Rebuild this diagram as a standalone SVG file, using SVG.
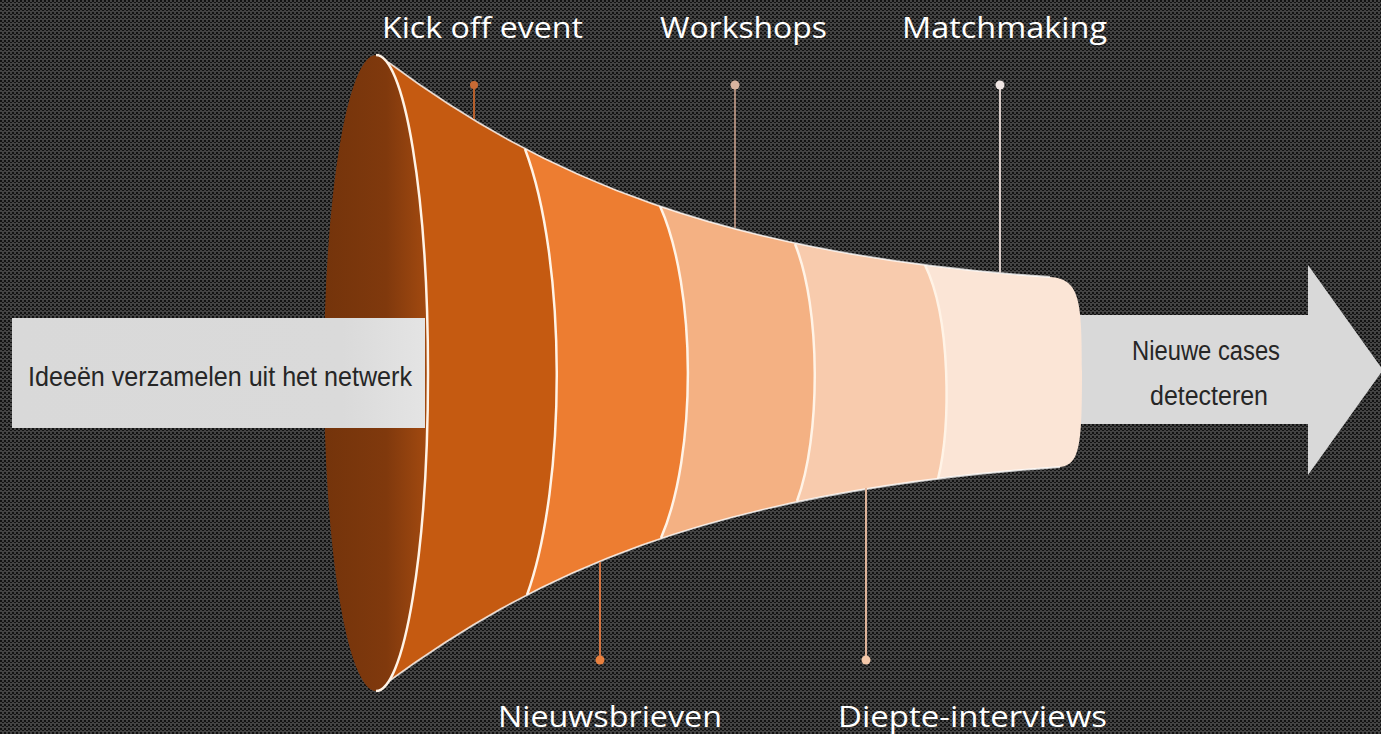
<svg xmlns="http://www.w3.org/2000/svg" width="1381" height="734" viewBox="0 0 1381 734">
<style>
.lbl{font-family:"Open Sans","Noto Sans",sans-serif;font-size:29px;fill:#ffffff}
.bar{font-family:"Liberation Sans","DejaVu Sans",sans-serif;fill:#262626}
.sep{fill:none;stroke:#fff3e6;stroke-width:2.5}
.edge{fill:none;stroke:#ffffff;stroke-opacity:0.75;stroke-width:1.8}
</style>
<defs>
<pattern id="bg" width="4" height="4" patternUnits="userSpaceOnUse">
<rect width="4" height="4" fill="#434343"/>
<rect x="0" y="0" width="2" height="2" fill="#121212"/>
<rect x="2" y="2" width="2" height="1" fill="#121212"/>
</pattern>
<linearGradient id="gIn" x1="0" y1="0" x2="1" y2="0">
<stop offset="0" stop-color="#74340b"/>
<stop offset="0.6" stop-color="#80390d"/>
<stop offset="1" stop-color="#a34a10"/>
</linearGradient>
<linearGradient id="gBar" x1="0" y1="0" x2="1" y2="0">
<stop offset="0" stop-color="#d9d9d9"/>
<stop offset="0.8" stop-color="#dadada"/>
<stop offset="1" stop-color="#e4e4e4"/>
</linearGradient>
<clipPath id="body">
<path d="M376,55 L388,62 C540,175 720,255 1050,277 C1080,279 1082,300 1082,372 C1082,445 1080,465 1060,467 C700,492 530,578 385,684 L376,691 Z"/>
</clipPath>
</defs>
<rect width="1381" height="734" fill="url(#bg)"/>

<g id="arrow-out">
<path d="M1040,315 L1308,315 L1308,265 L1383,370 L1308,475 L1308,424 L1040,424 Z" fill="#d9d9d9"/>
<text class="bar" x="1206" y="360" font-size="27" text-anchor="middle" textLength="148" lengthAdjust="spacingAndGlyphs">Nieuwe cases</text>
<text class="bar" x="1209" y="405" font-size="27" text-anchor="middle" textLength="118" lengthAdjust="spacingAndGlyphs">detecteren</text>
</g>

<g id="funnel">
<g clip-path="url(#body)">
<rect x="300" y="0" width="800" height="734" fill="#fbe5d6"/>
<path d="M0,0 L925,0 L925,265 C951,318 951,425 938,479 L938,734 L0,734 Z" fill="#f8cbad"/>
<path d="M0,0 L795,0 L795,244 C821,308 821,437 797,501 L797,734 L0,734 Z" fill="#f4b183"/>
<path d="M0,0 L660,0 L660,206 C697,289 697,455 661,538 L661,734 L0,734 Z" fill="#ed7d31"/>
<path d="M0,0 L525,0 L525,149 C567,260 567,484 527,595 L527,734 L0,734 Z" fill="#c55a11"/>
<path class="sep" d="M925,265 C951,318 951,425 938,479"/>
<path class="sep" d="M795,244 C821,308 821,437 797,501"/>
<path class="sep" d="M660,206 C697,289 697,455 661,538"/>
<path class="sep" d="M525,149 C567,260 567,484 527,595"/>
</g>
<path class="edge" d="M388,62 C540,175 720,255 1050,277"/>
<path class="edge" d="M385,684 C530,578 700,492 1060,467"/>
</g>

<g id="opening">
<ellipse cx="376" cy="373" rx="52" ry="318" fill="url(#gIn)"/>
<path class="sep" d="M376,55 A52,318 0 0 1 376,691"/>
</g>

<g id="arrow-in">
<rect x="12" y="318" width="413" height="110" fill="url(#gBar)"/>
<text class="bar" x="28" y="386" font-size="28" textLength="384" lengthAdjust="spacingAndGlyphs">Ideeën verzamelen uit het netwerk</text>
</g>

<g id="connectors">
<line x1="474" y1="85" x2="474" y2="119" stroke="#b8602c" stroke-width="2"/>
<circle cx="474" cy="85" r="4" fill="#c86a34"/>
<line x1="735" y1="85" x2="735" y2="228" stroke="#a88878" stroke-width="2"/>
<circle cx="735" cy="85" r="4.5" fill="#d9b4a0"/>
<line x1="1000" y1="85" x2="1000" y2="273" stroke="#d8ccc8" stroke-width="2"/>
<circle cx="1000" cy="85" r="4.5" fill="#f0e6e4"/>
<line x1="600" y1="562" x2="600" y2="660" stroke="#d47440" stroke-width="2"/>
<circle cx="600" cy="660" r="4.5" fill="#e9803e"/>
<line x1="866" y1="488" x2="866" y2="660" stroke="#e0b49a" stroke-width="2"/>
<circle cx="866" cy="660" r="4.5" fill="#f4c8aa"/>
</g>

<g id="labels">
<text class="lbl" x="382" y="38" textLength="201" lengthAdjust="spacingAndGlyphs">Kick off event</text>
<text class="lbl" x="660" y="38" textLength="167" lengthAdjust="spacingAndGlyphs">Workshops</text>
<text class="lbl" x="902" y="38" textLength="205" lengthAdjust="spacingAndGlyphs">Matchmaking</text>
<text class="lbl" x="498" y="727" textLength="224" lengthAdjust="spacingAndGlyphs">Nieuwsbrieven</text>
<text class="lbl" x="838" y="727" textLength="269" lengthAdjust="spacingAndGlyphs">Diepte-interviews</text>
</g>
</svg>
